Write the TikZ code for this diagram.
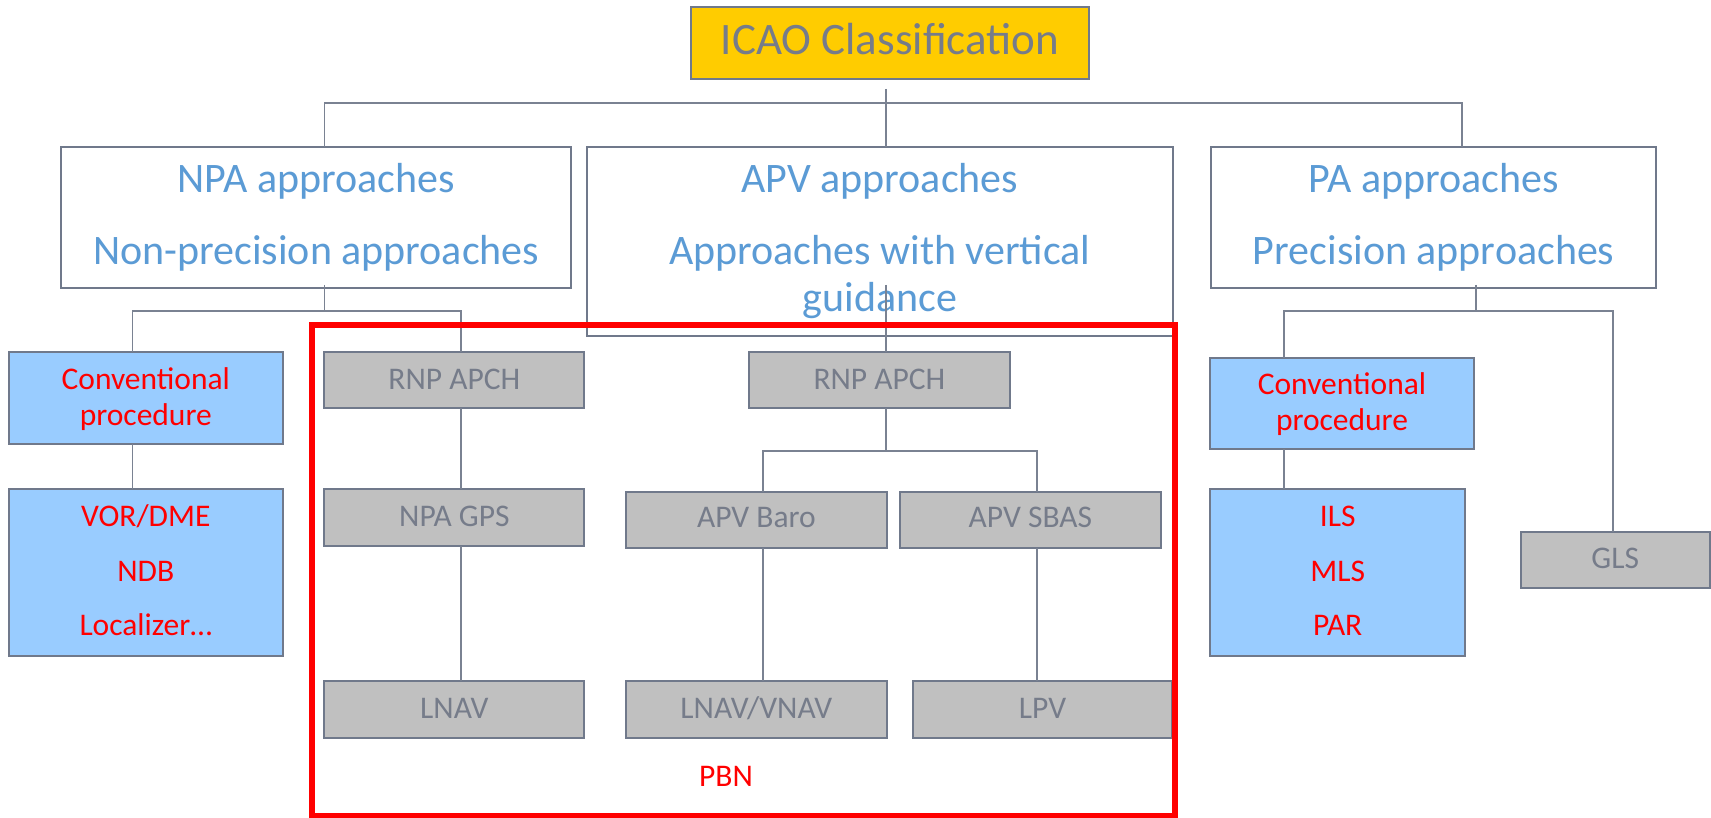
\documentclass[tikz,border=0pt]{standalone}
\usepackage{fontspec}
\setmainfont{Carlito}
\definecolor{icaoF}{HTML}{FFCC00}
\definecolor{blueT}{HTML}{5B9BD5}
\definecolor{blueF}{HTML}{99CCFF}
\definecolor{grayF}{HTML}{C0C0C0}
\definecolor{grayT}{RGB}{118,124,138}
\definecolor{bordC}{RGB}{112,121,139}
\definecolor{lineC}{RGB}{122,130,146}
\definecolor{redC}{HTML}{FF0000}
\tikzset{
  box/.style={draw=bordC, line width=2pt, inner sep=0pt, outer sep=0pt, rectangle},
  wbox/.style={box, fill=white},
  gbox/.style={box, fill=grayF},
  bbox/.style={box, fill=blueF},
  conn/.style={draw=lineC, line width=1.6pt},
  bigt/.style={anchor=base, text=blueT, inner sep=0pt, font=\fontsize{42}{50}\selectfont},
  titlet/.style={anchor=base, text=grayT, inner sep=0pt, font=\fontsize{45}{54}\selectfont},
  smr/.style={anchor=base, text=redC, inner sep=0pt, font=\fontsize{31.5}{38}\selectfont},
  smg/.style={anchor=base, text=grayT, inner sep=0pt, font=\fontsize{31.5}{38}\selectfont},
}
\begin{document}
\begin{tikzpicture}[x=1pt,y=-1pt]
\useasboundingbox[fill=white] (0,0) rectangle (1711,818);
% boxes
\node[box, fill=icaoF, minimum width=398, minimum height=71.4] (icao) at (890,43) {};
\node[wbox, minimum width=509.8, minimum height=141] (npa) at (316.3,217.2) {};
\node[wbox, minimum width=585.5, minimum height=189] (apv) at (879.75,241.2) {};
\node[wbox, minimum width=444.6, minimum height=141] (pa) at (1433.7,217.2) {};
\node[bbox, minimum width=274.4, minimum height=92] (conv1) at (145.8,397.7) {};
\node[bbox, minimum width=274.4, minimum height=166.4] (vor) at (145.8,572.5) {};
\node[gbox, minimum width=260.1, minimum height=56] (rnp1) at (454.35,379.7) {};
\node[gbox, minimum width=260.1, minimum height=56.4] (npagps) at (454.35,517.5) {};
\node[gbox, minimum width=260.1, minimum height=56.7] (lnav) at (454.35,709.35) {};
\node[gbox, minimum width=260.8, minimum height=56] (rnp2) at (879.4,379.7) {};
\node[gbox, minimum width=261.3, minimum height=56] (baro) at (756.35,519.7) {};
\node[gbox, minimum width=260.8, minimum height=56] (sbas) at (1030.4,519.7) {};
\node[gbox, minimum width=261.3, minimum height=56.7] (lnavvnav) at (756.35,709.35) {};
\node[gbox, minimum width=258.6, minimum height=56.7] (lpv) at (1042.6,709.35) {};
\node[bbox, minimum width=264, minimum height=91.6] (conv2) at (1342,403.5) {};
\node[bbox, minimum width=255.3, minimum height=166.4] (ils) at (1337.65,572.5) {};
\node[gbox, minimum width=189.5, minimum height=55.7] (gls) at (1615.25,559.85) {};
% texts
\node[titlet] (ticao) at (890,55) {ICAO Classification};
\node[bigt] (tnpa1) at (316.3,192.7) {NPA approaches};
\node[bigt] (tnpa2) at (316.3,265) {Non-precision approaches};
\node[bigt] (tapv1) at (879.75,192.7) {APV approaches};
\node[bigt] (tapv2) at (879.75,265) {Approaches with vertical};
\node[bigt] (tapv3) at (879.75,311.7) {guidance};
\node[bigt] (tpa1) at (1433.7,192.7) {PA approaches};
\node[bigt] (tpa2) at (1433.7,265) {Precision approaches};
\node[smr] (tc1a) at (145.8,389.3) {Conventional};
\node[smr] (tc1b) at (145.8,425.5) {procedure};
\node[smr] (tvor) at (145.8,526.7) {VOR/DME};
\node[smr] (tndb) at (145.8,581) {NDB};
\node[smr] (tloc) at (145.8,635.7) {Localizer…};
\node[smg] (trnp1) at (454.35,389.3) {RNP APCH};
\node[smg] (tnpagps) at (454.35,526) {NPA GPS};
\node[smg] (tlnav) at (454.35,718.3) {LNAV};
\node[smg] (trnp2) at (879.4,389.3) {RNP APCH};
\node[smg] (tbaro) at (756.35,527.7) {APV Baro};
\node[smg] (tsbas) at (1030.4,527.7) {APV SBAS};
\node[smg] (tlnavvnav) at (756.35,718.3) {LNAV/VNAV};
\node[smg] (tlpv) at (1042.6,718.3) {LPV};
\node[smr] (tc2a) at (1342,394.3) {Conventional};
\node[smr] (tc2b) at (1342,430) {procedure};
\node[smr] (tils) at (1337.65,526) {ILS};
\node[smr] (tmls) at (1337.65,581) {MLS};
\node[smr] (tpar) at (1337.65,635.7) {PAR};
\node[smg] (tgls) at (1615.25,568.3) {GLS};
\node[smr] (tpbn) at (726,786.7) {PBN};
% connector coordinates
\coordinate (topL) at (324.3,103.3);
\coordinate (topR) at (1462,103.3);
\coordinate (icaoS) at (886,89);
\coordinate (npaS) at (324.3,285);
\coordinate (npaL) at (132.6,311);
\coordinate (npaR) at (461,311);
\coordinate (apvS) at (886,285);
\coordinate (rnp2B) at (886,450.7);
\coordinate (apvL) at (763,450.7);
\coordinate (apvR) at (1037,450.7);
\coordinate (paS) at (1475.8,285);
\coordinate (paL) at (1284,311);
\coordinate (paR) at (1613,311);
% connectors
\draw[conn] (topL |- npa.north) -- (topL) -- (topR) -- (topR |- pa.north);
\draw[conn] (icaoS) -- (icaoS |- apv.north);
\draw[conn] (npaS) -- (npaS |- npaL) -- (npaL) -- (npaL |- conv1.north);
\draw[conn] (npaS |- npaR) -- (npaR) -- (npaR |- rnp1.north);
\draw[conn] (npaL |- conv1.south) -- (npaL |- vor.north);
\draw[conn] (npaR |- rnp1.south) -- (npaR |- npagps.north);
\draw[conn] (npaR |- npagps.south) -- (npaR |- lnav.north);
\draw[conn] (apvS) -- (apvS |- rnp2.north);
\draw[conn] (apvS |- rnp2.south) -- (rnp2B);
\draw[conn] (apvL |- baro.north) -- (apvL) -- (apvR) -- (apvR |- sbas.north);
\draw[conn] (apvL |- baro.south) -- (apvL |- lnavvnav.north);
\draw[conn] (apvR |- sbas.south) -- (apvR |- lpv.north);
\draw[conn] (paS) -- (paS |- paL);
\draw[conn] (paL |- conv2.north) -- (paL) -- (paR) -- (paR |- gls.north);
\draw[conn] (paL |- conv2.south) -- (paL |- ils.north);
% PBN frame
\node[draw=redC, line width=6pt, inner sep=0pt, minimum width=863, minimum height=490.5] (pbnframe) at (743,570.75) {};
\end{tikzpicture}
\end{document}
